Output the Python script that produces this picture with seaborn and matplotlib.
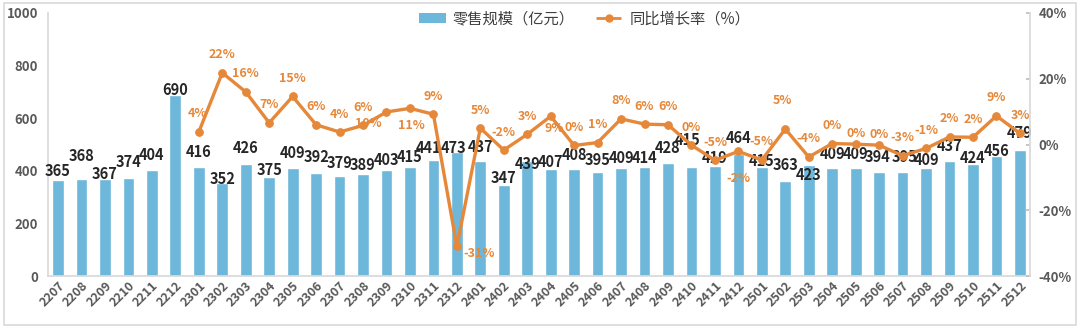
import numpy as np
import pandas as pd
import matplotlib
matplotlib.use("Agg")
import matplotlib.pyplot as plt
from matplotlib.patches import Rectangle, Patch
from matplotlib.lines import Line2D
import seaborn as sns

months = ["2207", "2208", "2209", "2210", "2211", "2212",
          "2301", "2302", "2303", "2304", "2305", "2306", "2307", "2308", "2309", "2310", "2311", "2312",
          "2401", "2402", "2403", "2404", "2405", "2406", "2407", "2408", "2409", "2410", "2411", "2412",
          "2501", "2502", "2503", "2504", "2505", "2506", "2507", "2508", "2509", "2510", "2511", "2512"]
retail = [365, 368, 367, 374, 404, 690,
          416, 352, 426, 375, 409, 392, 379, 389, 403, 415, 441, 473,
          437, 347, 439, 407, 408, 395, 409, 414, 428, 415, 419, 464,
          415, 363, 423, 409, 409, 394, 395, 409, 437, 424, 456, 479]
growth_months = months[6:]
growth = [3.8, 21.8, 16.0, 6.6, 14.6, 6.0, 3.8, 5.8, 9.9, 11.0, 9.2, -31.0,
          5.0, -1.7, 3.1, 8.6, -0.3, 0.6, 7.8, 6.2, 6.0, -0.2, -4.8, -2.1,
          -4.7, 4.7, -3.8, 0.3, 0.1, -0.2, -3.4, -1.2, 2.3, 2.2, 8.7, 3.4]

# label placement styles (pixel offsets of label centres), one per mark
bar_label_dy = [9, 23, 5, 16, 15, 5, 15, 4, 16, 7, 15, 16, 13, 9, 10, 10, 12, 4,
                14, 7, -3, 7, 14, 12, 10, 9, 15, 27, 8, 16,
                6, 16, -10, 14, 14, 15, 15, 8, 15, 6, 5, 17]
bar_label_dx = [0] * 42
bar_label_dx[16] = -5
bar_label_dx[17] = -3
bar_label_dx[27] = -4
bar_label_dx[35] = -2
bar_label_dx[36] = 2
line_label_off = {}
for m in growth_months:
    line_label_off[m] = (0, 18)
line_label_off.update({"2309": (-18, -12), "2310": (1, -17), "2312": (22, -7),
                       "2404": (3, -12), "2412": (0, -27), "2505": (0, 11),
                       "2506": (0, 11), "2502": (-3, 29), "2301": (-1, 19)})

BLUE = "#6DB7DA"
ORANGE = "#E5883A"
GRAY = "#595959"

sns.set_theme(style="white")
plt.rcParams["font.family"] = ["Noto Sans CJK SC", "DejaVu Sans"]

fig = plt.figure(figsize=(10.8, 3.28), dpi=100)
fig.patches.append(Rectangle((0.004, 0.008), 0.992, 0.984, transform=fig.transFigure,
                             fill=False, edgecolor="#D9D9D9", linewidth=1.2))
ax = fig.add_axes([0.0444, 0.1585, 0.9093, 0.8019])

df = pd.DataFrame({"month": months, "retail": retail})
sns.barplot(data=df, x="month", y="retail", color=BLUE, width=0.5, ax=ax,
            saturation=1, order=months)
ax.set_ylim(0, 1000)
ax.set_xlim(-0.43, len(months) - 0.57)
ax.set_yticks([0, 200, 400, 600, 800, 1000])
ax.set_xlabel("")
ax.set_ylabel("")
ax.tick_params(axis="y", labelsize=9.5, labelcolor=GRAY, length=0, pad=7)
ax.tick_params(axis="x", labelsize=9, labelcolor=GRAY, length=0, pad=2)
for lab in ax.get_yticklabels() + ax.get_xticklabels():
    lab.set_fontweight("bold")
plt.setp(ax.get_xticklabels(), rotation=45, ha="right", rotation_mode="anchor")
for s in ["top", "right"]:
    ax.spines[s].set_visible(False)
ax.spines["left"].set_color("#D9D9D9")
ax.spines["bottom"].set_color("#D9D9D9")

for i, v in enumerate(retail):
    ax.annotate(f"{v}", (i, v), xytext=(bar_label_dx[i], bar_label_dy[i]),
                textcoords="offset pixels", ha="center", va="center", fontsize=10.5,
                color="#262626", fontweight="bold", zorder=5)

ax2 = ax.twinx()
gx = [months.index(m) for m in growth_months]
gdf = pd.DataFrame({"x": gx, "g": growth})
sns.lineplot(data=gdf, x="x", y="g", ax=ax2, color=ORANGE, linewidth=2.4,
             marker="o", markersize=5.5, markeredgecolor=ORANGE)
ax2.set_ylim(-40, 40)
ax2.set_yticks([-40, -20, 0, 20, 40])
ax2.set_yticklabels([f"{t}%" for t in [-40, -20, 0, 20, 40]])
ax2.tick_params(axis="y", labelsize=9.5, labelcolor=GRAY, length=3, color="#BFBFBF",
                pad=6, direction="in")
for lab in ax2.get_yticklabels():
    lab.set_fontweight("bold")
ax2.set_xlabel("")
ax2.set_ylabel("")
for s in ["top", "left", "bottom"]:
    ax2.spines[s].set_visible(False)
ax2.spines["right"].set_color("#D9D9D9")

for m, x, g in zip(growth_months, gx, growth):
    dx, dy = line_label_off[m]
    ax2.annotate(f"{round(g):.0f}%", (x, g), xytext=(dx, dy), textcoords="offset pixels",
                 ha="center", va="center", fontsize=9, color=ORANGE, fontweight="bold")

handles = [Patch(facecolor=BLUE, edgecolor="none"),
           Line2D([0], [0], color=ORANGE, linestyle="--", linewidth=2, marker="o", markersize=5)]
leg = fig.legend(handles, ["零售规模（亿元）", "同比增长率（%）"], loc="center",
                 bbox_to_anchor=(0.541, 0.942), ncol=2, frameon=False, fontsize=11,
                 handlelength=1.8, handleheight=0.6, handletextpad=0.4, columnspacing=1.4,
                 labelcolor="#3F3F3F")
for t in leg.get_texts():
    t.set_fontweight("medium")

fig.savefig("out.png", dpi=100)
